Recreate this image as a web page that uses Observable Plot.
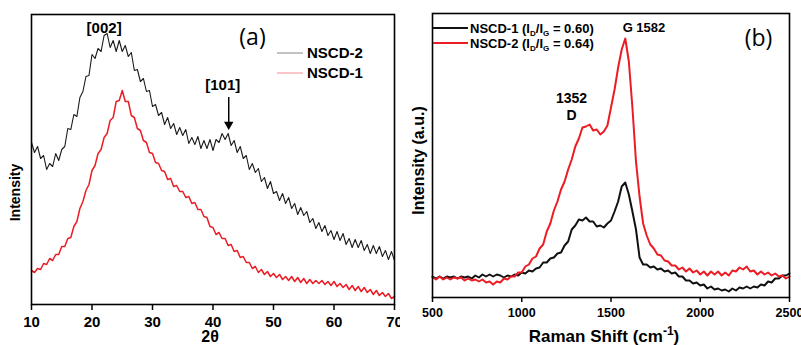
<!DOCTYPE html>
<html>
<head>
<meta charset="utf-8">
<script src="https://cdn.jsdelivr.net/npm/d3@7"></script>
<script src="https://cdn.jsdelivr.net/npm/@observablehq/plot@0.6"></script>
<style>
  html, body { margin: 0; padding: 0; background: #fff; }
  #fig { position: relative; width: 801px; height: 345px; overflow: hidden; background: #fff; }
  #fig > div { position: absolute; top: 0; }
  #panelA { left: 0; }
  #panelB { left: 400px; }
  #fig svg { overflow: hidden; }
</style>
</head>
<body>
<div id="fig"><div id="panelA"></div><div id="panelB"></div></div>
<script>
// ---------- (a) XRD patterns ----------
const xrdAngle = [
  10, 10.5, 11, 11.5, 12, 12.5, 13, 13.5, 14, 14.5, 15, 15.5, 16, 16.5, 17, 17.5, 18, 18.5, 19, 19.5,
  20, 20.5, 21, 21.5, 22, 22.5, 23, 23.5, 24, 24.5, 25, 25.5, 26, 26.5, 27, 27.5, 28, 28.5, 29, 29.5,
  30, 30.5, 31, 31.5, 32, 32.5, 33, 33.5, 34, 34.5, 35, 35.5, 36, 36.5, 37, 37.5, 38, 38.5, 39, 39.5,
  40, 40.5, 41, 41.5, 42, 42.5, 43, 43.5, 44, 44.5, 45, 45.5, 46, 46.5, 47, 47.5, 48, 48.5, 49, 49.5,
  50, 50.5, 51, 51.5, 52, 52.5, 53, 53.5, 54, 54.5, 55, 55.5, 56, 56.5, 57, 57.5, 58, 58.5, 59, 59.5,
  60, 60.5, 61, 61.5, 62, 62.5, 63, 63.5, 64, 64.5, 65, 65.5, 66, 66.5, 67, 67.5, 68, 68.5, 69, 69.5, 70
];
const xrdNSCD2 = [
  162, 152, 158, 146, 149, 135, 141, 138, 151, 144, 155, 158, 176, 175, 190, 188, 207, 213, 228, 229,
  250, 246, 256, 253, 269, 271, 257, 264, 253, 264, 253, 259, 248, 252, 234, 235, 223, 226, 213, 214,
  198, 200, 189, 192, 180, 187, 176, 181, 170, 177, 169, 175, 161, 167, 160, 168, 156, 164, 156, 165,
  154, 165, 162, 171, 165, 171, 159, 164, 152, 158, 146, 149, 135, 141, 132, 136, 123, 127, 116, 123,
  111, 113, 104, 111, 101, 107, 96, 101, 90, 97, 89, 93, 82, 86, 76, 82, 73, 79, 69, 74,
  65, 73, 64, 71, 60, 66, 57, 65, 57, 64, 54, 60, 51, 59, 51, 58, 48, 54, 45, 53, 44
];
const xrdNSCD1 = [
  34, 32, 36, 35, 41, 40, 46, 44, 50, 50, 58, 58, 66, 67, 78, 83, 96, 103, 114, 120,
  134, 139, 151, 155, 167, 171, 184, 187, 203, 204, 214, 203, 203, 189, 187, 176, 174, 164, 162, 152,
  151, 142, 141, 134, 133, 125, 126, 118, 119, 113, 113, 107, 108, 101, 102, 95, 95, 88, 87, 78,
  77, 70, 72, 66, 66, 59, 60, 53, 54, 47, 48, 42, 42, 36, 38, 32, 35, 30, 33, 28,
  31, 27, 30, 25, 28, 24, 28, 23, 27, 22, 26, 21, 25, 21, 24, 21, 24, 20, 23, 19,
  23, 18, 21, 17, 20, 15, 19, 14, 18, 13, 17, 12, 15, 10, 14, 9, 12, 8, 11, 6, 8
];
const xrdTicks = [10, 20, 30, 40, 50, 60, 70];
const xrdLegend = ["NSCD-2", "NSCD-1"];
const xrdPeakLabels = ["[002]", "[101]"];
const xrdPeakAngles = [22.5, 42.6];
const xrdPeakLevels = [276, 219];
const xrdArrowFrom = 207, xrdArrowTo = 182;

// ---------- (b) Raman spectra ----------
const ramanShift = [
  500, 520, 540, 560, 580, 600, 620, 640, 660, 680, 700, 720, 740, 760, 780, 800, 820, 840, 860, 880,
  900, 920, 940, 960, 980, 1000, 1020, 1040, 1060, 1080, 1100, 1120, 1140, 1160, 1180, 1200, 1220, 1240, 1260, 1280,
  1300, 1320, 1340, 1360, 1380, 1400, 1420, 1440, 1460, 1480, 1500, 1520, 1540, 1560, 1580, 1600, 1620, 1640, 1660, 1680,
  1700, 1720, 1740, 1760, 1780, 1800, 1820, 1840, 1860, 1880, 1900, 1920, 1940, 1960, 1980, 2000, 2020, 2040, 2060, 2080,
  2100, 2120, 2140, 2160, 2180, 2200, 2220, 2240, 2260, 2280, 2300, 2320, 2340, 2360, 2380, 2400, 2420, 2440, 2460, 2480, 2500
];
const ramanNSCD1 = [
  21, 19, 21, 19, 21, 20, 21, 19, 21, 20, 21, 19, 22, 20, 23, 21, 23, 21, 23, 22,
  20, 22, 21, 23, 22, 25, 24, 27, 26, 29, 30, 35, 35, 39, 40, 44, 45, 52, 56, 68,
  72, 78, 77, 80, 76, 76, 71, 72, 70, 74, 77, 86, 96, 111, 115, 103, 86, 68, 40, 33,
  33, 30, 31, 28, 29, 26, 27, 24, 25, 21, 21, 17, 17, 14, 15, 12, 13, 9, 11, 8,
  9, 7, 8, 6, 9, 7, 10, 9, 11, 9, 11, 10, 13, 12, 16, 15, 19, 19, 22, 22, 24
];
const ramanNSCD2 = [
  20, 18, 21, 18, 20, 18, 20, 19, 20, 17, 19, 17, 18, 16, 18, 15, 16, 13, 16, 15,
  19, 18, 21, 21, 25, 25, 31, 33, 39, 41, 49, 53, 66, 74, 87, 96, 108, 116, 128, 138,
  151, 159, 170, 171, 173, 167, 168, 163, 166, 172, 190, 208, 230, 248, 259, 236, 190, 136, 101, 74,
  62, 53, 49, 43, 42, 37, 36, 32, 32, 28, 30, 26, 29, 25, 27, 23, 26, 22, 26, 23,
  26, 22, 25, 22, 27, 26, 30, 28, 31, 26, 27, 23, 26, 23, 25, 22, 24, 21, 22, 19, 21
];
const ramanTicks = [500, 1000, 1500, 2000, 2500];
const ramanLegend = ["NSCD-1", "NSCD-2"];
const ramanRatio = ["0.60", "0.64"];
const ramanPeakLabels = ["G 1582", "1352", "D"];
const ramanPeakShifts = [1582, 1352, 1352];
const ramanPeakLevels = [270, 199, 182];

const BLACK = "#111111", RED = "#ec1c24";
const SANS = "'Liberation Sans', Arial, Helvetica, sans-serif";
const CENTER = {textAnchor: "middle", lineAnchor: "middle"};

const xrd = xrdAngle.map((a, i) => ({angle: a, nscd1: xrdNSCD1[i], nscd2: xrdNSCD2[i]}));
const raman = ramanShift.map((s, i) => ({shift: s, nscd1: ramanNSCD1[i], nscd2: ramanNSCD2[i]}));
const xrdPeaks = xrdPeakLabels.map((t, i) => ({label: t, angle: xrdPeakAngles[i], level: xrdPeakLevels[i]}));
const ramanPeaks = ramanPeakLabels.map((t, i) => ({label: t, shift: ramanPeakShifts[i], level: ramanPeakLevels[i]}));

// Panel (a)
const plotA = Plot.plot({
  width: 400, height: 345,
  marginLeft: 31, marginRight: 6, marginTop: 14, marginBottom: 41,
  style: {fontFamily: SANS, background: "#fff", color: "#000"},
  x: {domain: [10, 70]},
  y: {domain: [0, 290], axis: null},
  marks: [
    Plot.line(xrd, {x: "angle", y: "nscd2", stroke: "#1a1a1a", strokeWidth: 1.1}),
    Plot.line(xrd, {x: "angle", y: "nscd1", stroke: RED, strokeWidth: 1.5}),
    Plot.frame({stroke: "#000", strokeWidth: 1.6}),
    Plot.axisX({ticks: xrdTicks, tickSize: 6, tickPadding: 6, strokeWidth: 1.5, fontSize: 15, fontWeight: "bold", label: null, tickFormat: d => String(d)}),
    Plot.text([xrdPeaks[0]], {x: "angle", y: "level", text: "label", dx: -3, fontSize: 15, fontWeight: "bold"}),
    Plot.text([xrdPeaks[1]], {x: "angle", y: "level", text: "label", dx: -6, fontSize: 15, fontWeight: "bold"}),
    Plot.ruleX([xrdPeaks[1]], {x: "angle", y1: xrdArrowFrom, y2: xrdArrowTo, stroke: "#000", strokeWidth: 1.5}),
    Plot.dot([xrdPeaks[1]], {x: "angle", y: xrdArrowTo - 2, symbol: "triangle", r: 3.5, fill: "#000", rotate: 180}),
    Plot.text(["(a)"], {frameAnchor: "top-left", dx: 221, dy: 23, ...CENTER, fontSize: 23, fontFamily: "'Open Sans', sans-serif"}),
    Plot.text(["2θ"], {frameAnchor: "bottom", dx: -3, dy: 32, ...CENTER, fontSize: 16, fontWeight: "bold"}),
    Plot.text(["Intensity"], {frameAnchor: "left", dx: -16, dy: 33, ...CENTER, rotate: -90, fontSize: 14, fontWeight: "bold"})
  ]
});

// Panel (b)
const ramanTitle = "Raman Shift (cm-1)";
const plotB = Plot.plot({
  width: 401, height: 345,
  marginLeft: 32, marginRight: 12, marginTop: 13, marginBottom: 48,
  style: {fontFamily: SANS, background: "#fff", color: "#000"},
  x: {domain: [500, 2500]},
  y: {domain: [0, 284], axis: null},
  marks: [
    Plot.line(raman, {x: "shift", y: "nscd1", stroke: BLACK, strokeWidth: 2}),
    Plot.line(raman, {x: "shift", y: "nscd2", stroke: RED, strokeWidth: 2}),
    Plot.frame({stroke: "#000", strokeWidth: 1.6}),
    Plot.axisX({ticks: ramanTicks, tickSize: 5, tickPadding: 6, strokeWidth: 1.5, fontSize: 12.5, fontWeight: "bold", label: null, tickFormat: d => String(d)}),
    Plot.text([ramanPeaks[0]], {x: "shift", y: "level", text: "label", textAnchor: "start", dx: -3, fontSize: 13, fontWeight: "bold"}),
    Plot.text(ramanPeaks.slice(1), {x: "shift", y: "level", text: "label", dx: -13, fontSize: 14, fontWeight: "bold"}),
    Plot.text(["(b)"], {frameAnchor: "top-left", dx: 326, dy: 25, ...CENTER, fontSize: 23, fontFamily: "'Open Sans', sans-serif"}),
    Plot.text([ramanTitle], {frameAnchor: "bottom", dx: -7, dy: 39, ...CENTER, fontSize: 17, fontWeight: "bold"}),
    Plot.text(["Intensity (a.u.)"], {frameAnchor: "left", dx: -14, dy: 5, ...CENTER, rotate: -90, fontSize: 16, fontWeight: "bold"})
  ]
});

document.getElementById("panelA").appendChild(plotA);
document.getElementById("panelB").appendChild(plotB);

// Superscript in the Raman axis title
d3.select(plotB).selectAll("text").filter(function() { return this.textContent === ramanTitle; })
  .each(function() {
    const t = d3.select(this).text(null);
    t.append("tspan").text("Raman Shift (cm");
    t.append("tspan").attr("dy", -7).attr("font-size", 12).text("-1");
    t.append("tspan").attr("dy", 7).text(")");
  });

// Legends (line swatch + label)
function addLegend(svg, items, o) {
  const g = d3.select(svg).append("g")
    .attr("font-family", SANS).attr("font-weight", "bold").attr("font-size", o.fontSize)
    .attr("text-anchor", "start");
  items.forEach((it, i) => {
    const y = o.y0 + i * o.step;
    g.append("line").attr("x1", o.x0).attr("x2", o.x1).attr("y1", y).attr("y2", y)
      .attr("stroke", it.color).attr("stroke-width", o.lineWidth).attr("stroke-opacity", o.opacity);
    const t = g.append("text").attr("x", o.tx).attr("y", y).attr("dy", "0.35em").attr("fill", "#000");
    let shifted = false;
    it.parts.forEach(p => {
      const s = t.append("tspan").text(p.text);
      if (p.sub) { s.attr("font-size", o.fontSize * 0.62).attr("dy", 3); shifted = true; }
      else if (shifted) { s.attr("dy", -3); shifted = false; }
    });
  });
}

addLegend(plotA, [
  {color: BLACK, parts: [{text: xrdLegend[0]}]},
  {color: RED, parts: [{text: xrdLegend[1]}]}
], {x0: 277, x1: 303, tx: 307, y0: 53, step: 20, fontSize: 15, lineWidth: 1, opacity: 0.5});

addLegend(plotB, ramanLegend.map((name, i) => ({
  color: i === 0 ? BLACK : RED,
  parts: [{text: name + " (I"}, {text: "D", sub: true}, {text: "/I"}, {text: "G", sub: true}, {text: " = " + ramanRatio[i] + ")"}]
})), {x0: 33, x1: 68, tx: 70, y0: 28, step: 15, fontSize: 13, lineWidth: 2, opacity: 1});
</script>
</body>
</html>
